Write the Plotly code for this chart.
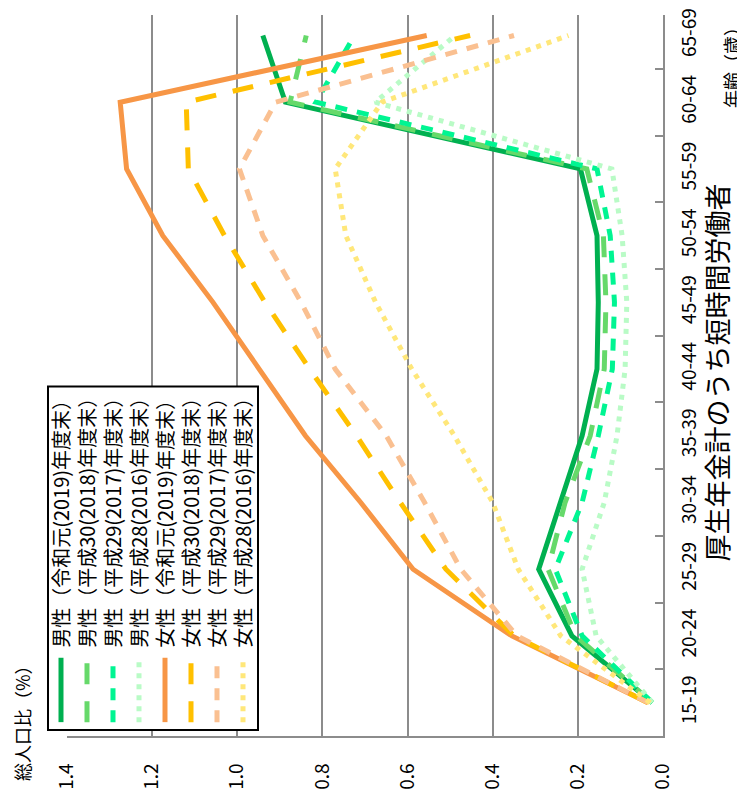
import plotly.graph_objects as go

# ---------------- data ----------------
categories = ["15-19", "20-24", "25-29", "30-34", "35-39", "40-44",
              "45-49", "50-54", "55-59", "60-64", "65-69"]

series_names = [
    "男性（令和元(2019)年度末）",
    "男性（平成30(2018)年度末）",
    "男性（平成29(2017)年度末）",
    "男性（平成28(2016)年度末）",
    "女性（令和元(2019)年度末）",
    "女性（平成30(2018)年度末）",
    "女性（平成29(2017)年度末）",
    "女性（平成28(2016)年度末）",
]

male_2019 = [0.025, 0.214, 0.292, 0.241, 0.190, 0.155, 0.152, 0.155, 0.194, 0.887, 0.940]
male_2018 = [0.025, 0.205, 0.270, 0.230, 0.171, 0.138, 0.134, 0.140, 0.179, 0.876, 0.838]
male_2017 = [0.025, 0.190, 0.253, 0.190, 0.152, 0.119, 0.114, 0.124, 0.155, 0.815, 0.725]
male_2016 = [0.025, 0.157, 0.190, 0.138, 0.108, 0.089, 0.085, 0.096, 0.120, 0.676, 0.488]
female_2019 = [0.035, 0.355, 0.587, 0.710, 0.840, 0.950, 1.057, 1.175, 1.260, 1.275, 0.555]
female_2018 = [0.035, 0.350, 0.510, 0.617, 0.720, 0.830, 0.935, 1.030, 1.115, 1.120, 0.453]
female_2017 = [0.035, 0.343, 0.475, 0.560, 0.650, 0.770, 0.850, 0.940, 0.995, 0.910, 0.350]
female_2016 = [0.030, 0.240, 0.340, 0.400, 0.490, 0.590, 0.675, 0.745, 0.770, 0.660, 0.222]

value_ticks = [0.0, 0.2, 0.4, 0.6, 0.8, 1.0, 1.2, 1.4]

title_text = "厚生年金計のうち短時間労働者"
value_axis_title = "総人口比（%）"
category_axis_title = "年齢（歳）"

# ---------------- styles ----------------
all_values = [male_2019, male_2018, male_2017, male_2016,
              female_2019, female_2018, female_2017, female_2016]
colors = ["#00B050", "#66D96A", "#00F592", "#B9FBC6",
          "#F79646", "#FFC000", "#FAC091", "#FFE77A"]
dashes = ["solid", "21px,17px", "12px,10px", "5px,6px",
          "solid", "21px,17px", "12px,10px", "5px,6px"]
FONT = "Noto Sans CJK JP, Noto Sans, sans-serif"
GRID = "#8C8C8C"

OFF = 8                       # page body margin
W, H = 745 - OFF, 796 - OFF   # figure size
# plot area in page pixels
PL, PR, PT, PB = 67, 663, OFF, 736


def px_x(px):
    return (px - PL) / (PR - PL)


def px_y(py):
    return (PB - py) / (PB - PT)


fig = go.Figure()
for name, vals, col, dsh in zip(series_names, all_values, colors, dashes):
    fig.add_trace(go.Scatter(
        x=vals, y=categories, mode="lines", name=name,
        line=dict(color=col, width=5, dash=dsh),
        showlegend=False,
    ))

# legend (drawn manually since text is rotated)
shapes = [dict(type="rect", xref="paper", yref="paper",
               x0=px_x(48), x1=px_x(258), y0=px_y(730), y1=px_y(383),
               line=dict(color="black", width=2), fillcolor="white", layer="above")]
annotations = []
for i, (name, col, dsh) in enumerate(zip(series_names, colors, dashes)):
    cx = 61 + 26 * i
    shapes.append(dict(type="line", xref="paper", yref="paper",
                       x0=px_x(cx), x1=px_x(cx), y0=px_y(722), y1=px_y(657),
                       line=dict(color=col, width=5, dash=dsh), layer="above"))
    annotations.append(dict(xref="paper", yref="paper", x=px_x(cx), y=px_y(649),
                            xanchor="center", yanchor="bottom", textangle=-90,
                            text=name, showarrow=False,
                            font=dict(family=FONT, size=20, color="black")))

annotations.append(dict(xref="paper", yref="paper", x=px_x(717), y=px_y(369),
                        xanchor="center", yanchor="middle", textangle=-90,
                        text=title_text, showarrow=False,
                        font=dict(family=FONT, size=27, color="black")))
annotations.append(dict(xref="paper", yref="paper", x=px_x(22), y=px_y(784),
                        xanchor="center", yanchor="bottom", textangle=-90,
                        text=value_axis_title, showarrow=False,
                        font=dict(family=FONT, size=18, color="black")))
annotations.append(dict(xref="paper", yref="paper", x=px_x(731), y=px_y(104),
                        xanchor="center", yanchor="bottom", textangle=-90,
                        text=category_axis_title, showarrow=False,
                        font=dict(family=FONT, size=18, color="black")))

# category index range so that the plot top sits at page y = OFF
cat_step = 67.4
cat0_y = 702.7
top_index = (cat0_y - PT) / cat_step

fig.update_layout(
    width=W, height=H,
    margin=dict(l=PL - OFF, r=745 - PR, t=PT - OFF, b=796 - PB, pad=0),
    plot_bgcolor="white", paper_bgcolor="white",
    font=dict(family=FONT, size=18, color="black"),
    shapes=shapes, annotations=annotations,
    showlegend=False,
    xaxis=dict(range=[1.4, 0.0], tickvals=value_ticks,
               ticktext=[f"{v:.1f}" for v in value_ticks],
               tickangle=-90, showgrid=True, gridcolor=GRID, gridwidth=1.5,
               showline=True, linecolor=GRID, linewidth=1.5,
               zeroline=False, ticks="", ticklabelstandoff=18,
               tickfont=dict(family=FONT, size=19, color="black")),
    yaxis=dict(type="category", categoryorder="array", categoryarray=categories,
               range=[-0.5, top_index], side="right", tickangle=-90,
               ticks="inside", ticklen=8, tickcolor=GRID, tickwidth=1.5,
               tickson="boundaries", showgrid=False,
               showline=True, linecolor=GRID, linewidth=1.5,
               zeroline=False, ticklabelstandoff=8,
               tickfont=dict(family=FONT, size=19, color="black")),
)

fig.write_html("out.html")
